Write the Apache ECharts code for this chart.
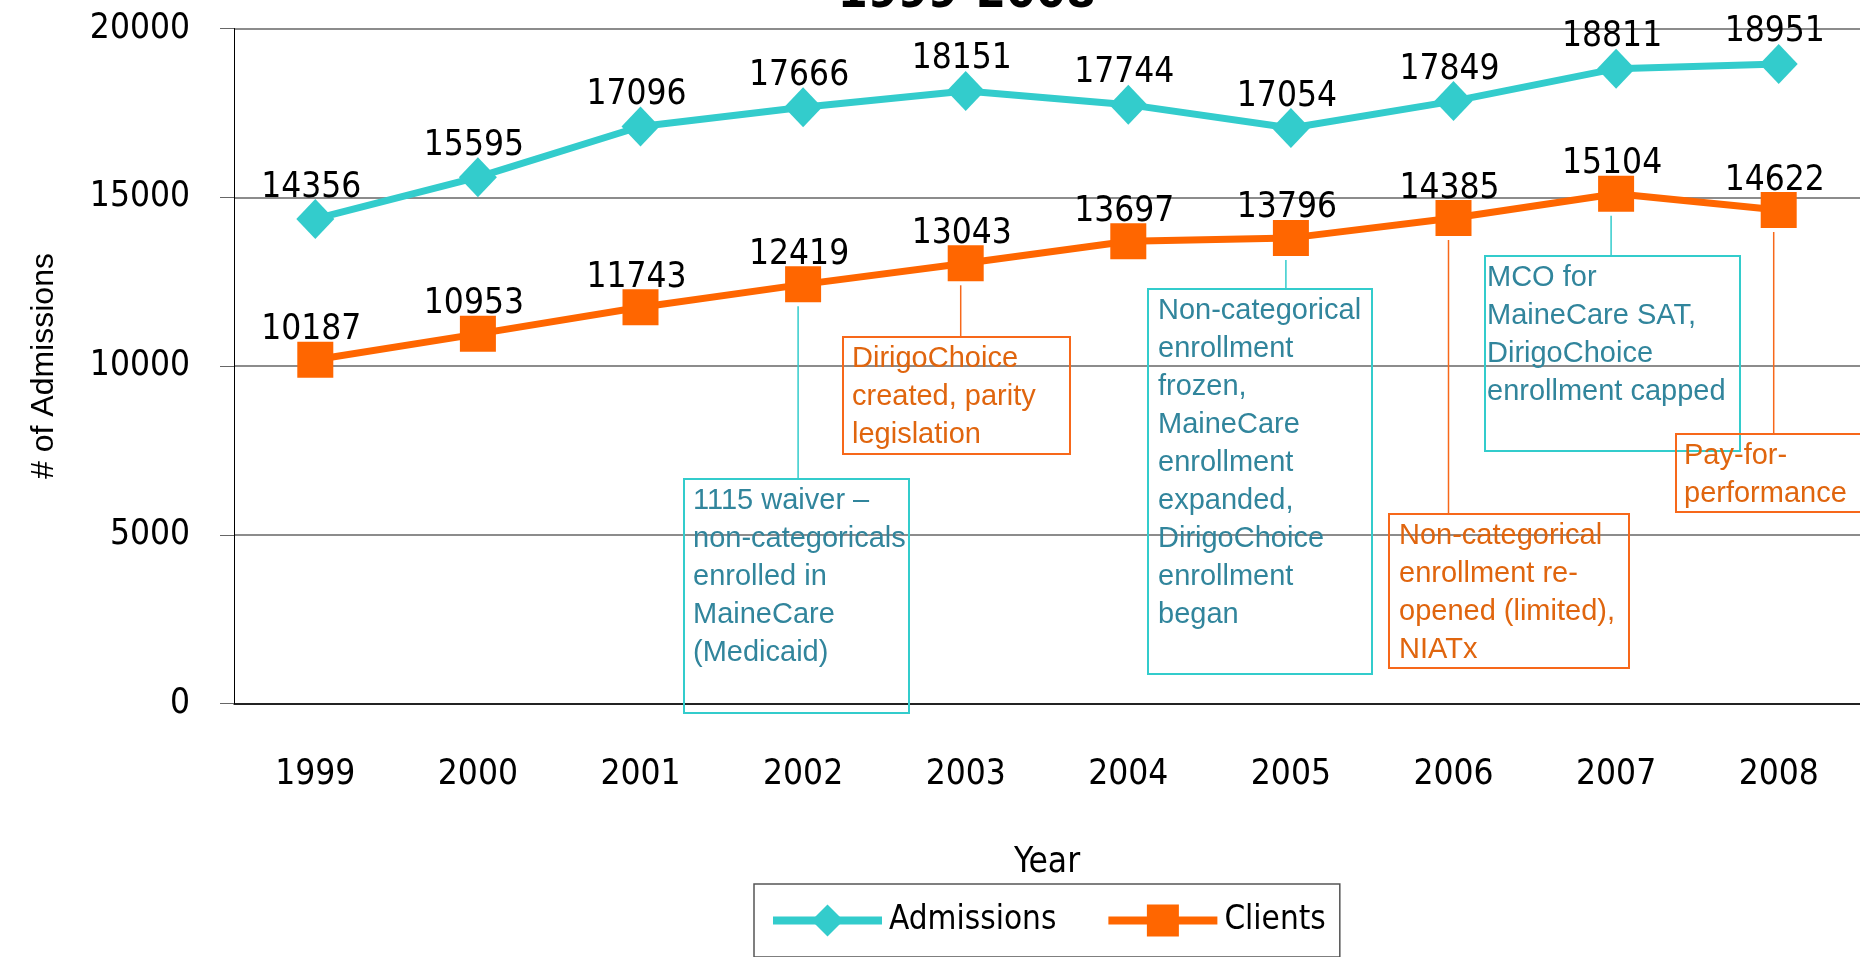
<!DOCTYPE html>
<html>
<head>
<meta charset="utf-8">
<script src="https://cdn.jsdelivr.net/npm/echarts@6/dist/echarts.min.js"></script>
<style>
    html, body { margin: 0; padding: 0; background: #fff; }
    #chart { width: 1860px; height: 957px; }
</style>
</head>
<body>
<div id="chart"></div>
<script>
const years = ['1999', '2000', '2001', '2002', '2003', '2004', '2005', '2006', '2007', '2008'];
const admissions = [14356, 15595, 17096, 17666, 18151, 17744, 17054, 17849, 18811, 18951];
const clients = [10187, 10953, 11743, 12419, 13043, 13697, 13796, 14385, 15104, 14622];

// annotation texts, keyed to the Clients point they hang from
const noteYears = ['2002', '2003', '2005', '2006', '2007', '2008'];
const noteKinds = ['teal', 'orange', 'teal', 'orange', 'teal', 'orange'];
const noteTexts = [
    ['1115 waiver \u2013', 'non-categoricals', 'enrolled in', 'MaineCare', '(Medicaid)'],
    ['DirigoChoice', 'created, parity', 'legislation'],
    ['Non-categorical', 'enrollment', 'frozen,', 'MaineCare', 'enrollment', 'expanded,', 'DirigoChoice', 'enrollment', 'began'],
    ['Non-categorical', 'enrollment re-', 'opened (limited),', 'NIATx'],
    ['MCO for', 'MaineCare SAT,', 'DirigoChoice', 'enrollment capped'],
    ['Pay-for-', 'performance']
];

// box layout in pixels: left, top, width, height, text padding
const noteBoxes = [
    [684, 479, 225, 234, 9],
    [843, 337, 227, 117, 9],
    [1148, 289, 224, 385, 10],
    [1389, 514, 240, 154, 10],
    [1485, 256, 255, 195, 2],
    [1676, 434, 200, 78, 8]
];

const TEAL = '#33CCCC';
const ORANGE = '#FF6600';
const narrow = '"Liberation Sans Narrow", "DejaVu Sans Condensed", "Liberation Sans", sans-serif';
const regular = '"Liberation Sans", "DejaVu Sans", sans-serif';
const noteColors = {
    teal: { border: TEAL, text: '#31859C' },
    orange: { border: '#F7681A', text: '#E0650E' }
};
const FS = 35;

const chart = echarts.init(document.getElementById('chart'));

const labelStyle = {
    show: true,
    position: 'top',
    distance: -6,
    offset: [-4, 0],
    color: '#000',
    fontSize: FS,
    fontFamily: narrow
};

chart.setOption({
    animation: false,
    backgroundColor: '#fff',
    grid: { left: 234, right: -2, top: 28.5, bottom: 253.5 },
    legend: {
        left: 754,
        top: 884,
        padding: [20, 14, 20, 15],
        itemWidth: 109,
        itemHeight: 40,
        itemGap: 48,
        borderColor: '#555',
        borderWidth: 1.5,
        lineStyle: { width: 8 },
        textStyle: { fontSize: 33, fontFamily: narrow, color: '#000', padding: [0, 0, 0, 2] },
        data: ['Admissions', 'Clients']
    },
    xAxis: {
        type: 'category',
        data: years,
        name: 'Year',
        nameLocation: 'middle',
        nameGap: 142,
        nameTextStyle: { fontSize: FS, fontFamily: narrow, color: '#000' },
        axisLine: { lineStyle: { color: '#000', width: 1.5 } },
        axisTick: { length: 14, lineStyle: { color: '#000' } },
        axisLabel: { margin: 54, fontSize: FS, fontFamily: narrow, color: '#000' }
    },
    yAxis: {
        type: 'value',
        min: 0,
        max: 20000,
        interval: 5000,
        name: '# of Admissions',
        nameLocation: 'middle',
        nameRotate: 90,
        nameGap: 174,
        nameTextStyle: { fontSize: 32, fontFamily: regular, color: '#000' },
        axisLine: { show: true, lineStyle: { color: '#000', width: 1 } },
        axisTick: { show: true, length: 14, lineStyle: { color: '#666' } },
        axisLabel: {
            margin: 44, fontSize: FS, fontFamily: narrow, color: '#000',
            formatter: v => String(v)
        },
        splitLine: { lineStyle: { color: '#666', width: 1.5 } }
    },
    series: [
        {
            name: 'Admissions',
            type: 'line',
            data: admissions,
            symbol: 'diamond',
            symbolSize: [38, 40],
            color: TEAL,
            lineStyle: { color: TEAL, width: 7 },
            itemStyle: { color: TEAL },
            label: labelStyle
        },
        {
            name: 'Clients',
            type: 'line',
            data: clients,
            symbol: 'rect',
            symbolSize: 36,
            color: ORANGE,
            lineStyle: { color: ORANGE, width: 7 },
            itemStyle: { color: ORANGE },
            label: labelStyle
        }
    ]
});

// callout boxes and connectors, anchored to the Clients points
const graphics = [{
    type: 'text',
    x: 967,
    y: 19,
    style: {
        text: '1999-2008',
        font: 'bold 48px ' + narrow,
        fill: '#000',
        align: 'center',
        verticalAlign: 'bottom'
    }
}];

noteYears.forEach((yr, i) => {
    const idx = years.indexOf(yr);
    const pt = chart.convertToPixel({ seriesIndex: 1 }, [idx, clients[idx]]);
    const [left, top, w, h, pad] = noteBoxes[i];
    const c = noteColors[noteKinds[i]];
    graphics.push({
        type: 'line',
        z: 5,
        shape: { x1: pt[0] - 5, y1: pt[1] + 22, x2: pt[0] - 5, y2: top },
        style: { stroke: c.border, lineWidth: 1.5 }
    });
    graphics.push({
        type: 'rect',
        z: 5,
        shape: { x: left, y: top, width: w, height: h },
        style: { fill: 'none', stroke: c.border, lineWidth: 2 }
    });
    graphics.push({
        type: 'text',
        z: 6,
        x: left + pad,
        y: top + 3,
        style: {
            text: noteTexts[i].join('\n'),
            font: '29px ' + regular,
            lineHeight: 38,
            fill: c.text,
            verticalAlign: 'top'
        }
    });
});

chart.setOption({ graphic: graphics });
</script>
</body>
</html>
